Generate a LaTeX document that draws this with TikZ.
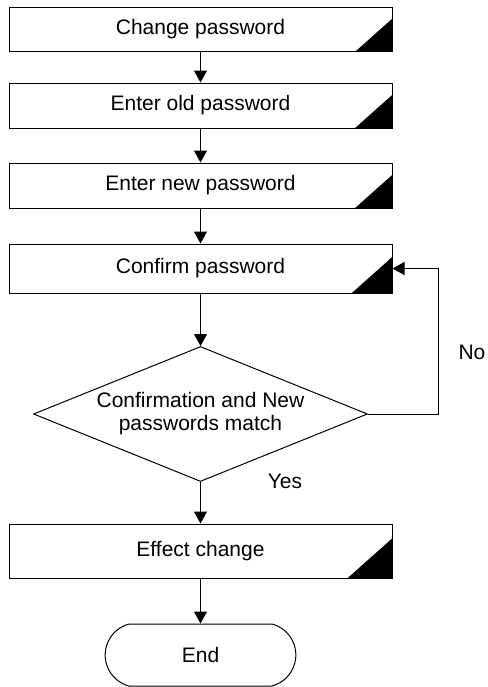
\documentclass[tikz,border=0pt]{standalone}
\usepackage{fontspec}
\setmainfont{Liberation Sans}
\usetikzlibrary{arrows.meta,shapes.geometric,shapes.misc,calc}
\tikzset{every picture/.style={line width=0.5pt}}
\tikzset{
  stepbox/.style={draw, minimum width=191.5pt, inner sep=0pt,
    path picture={
      \fill let \p1=(path picture bounding box.south east),
                \p2=(path picture bounding box.north east) in
        (\p1) -- (\x1,{\y1+0.73*(\y2-\y1)}) -- ({\x1-0.82*(\y2-\y1)},\y1) -- cycle;
    }},
  decision/.style={diamond, draw, aspect=2.47, inner sep=0pt,
    minimum width=167pt, minimum height=67.5pt, align=center},
  endbox/.style={rounded rectangle, rounded rectangle arc length=150, draw,
    minimum width=102pt, minimum height=31pt},
  arrowline/.style={-{Triangle[length=6pt,width=6.5pt]}}
}

\begin{document}
\begin{tikzpicture}[x=0.5pt,y=-0.5pt,font=\fontsize{10.5pt}{11.5pt}\selectfont]
    \useasboundingbox (0,0) rectangle (488,687);

    % 步骤
    \node[stepbox, minimum height=22pt] (change) at (200.5,29) {Change password};
    \node[stepbox, minimum height=22.5pt] (oldpw) at (200.5,105.5) {Enter old password};
    \node[stepbox, minimum height=22.5pt] (newpw) at (200.5,185.5) {Enter new password};
    \node[stepbox, minimum height=24.5pt] (confirm) at (200.5,268.5) {Confirm password};
    \node[decision] (match) at (200.5,414) {Confirmation and New\\passwords match};
    \node[stepbox, minimum height=27pt] (effect) at (200.5,551) {Effect change};
    \node[endbox] (finish) at (200.5,655) {End};

    % 连线
    \foreach \a/\b in {change/oldpw, oldpw/newpw, newpw/confirm, confirm/match, match/effect, effect/finish}
        \draw[arrowline] (\a.south) -- (\b.north);
    \draw[arrowline] (match.east) -- ++(70,0) |- (confirm.east);

    % 标注
    \node (no) at (472,352) {No};
    \node (yes) at (285,481) {Yes};
\end{tikzpicture}
\end{document}
